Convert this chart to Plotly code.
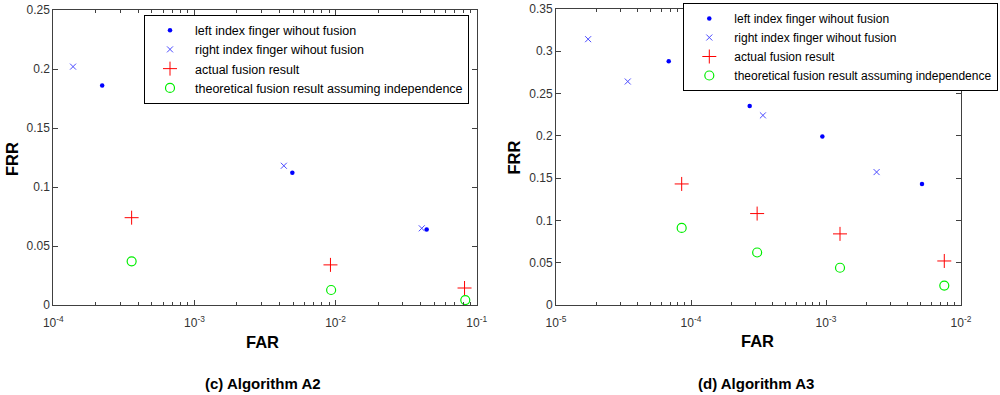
import plotly.graph_objects as go

# ---------------- data: (c) Algorithm A2 ----------------
a2_left_far = [2.22e-4, 4.94e-3, 4.42e-2]
a2_left_frr = [0.186, 0.112, 0.064]
a2_right_far = [1.38e-4, 4.30e-3, 4.08e-2]
a2_right_frr = [0.202, 0.118, 0.065]
a2_actual_far = [3.59e-4, 9.2e-3, 8.2e-2]
a2_actual_frr = [0.074, 0.034, 0.0144]
a2_theo_far = [3.59e-4, 9.3e-3, 8.3e-2]
a2_theo_frr = [0.037, 0.0127, 0.0042]

# ---------------- data: (d) Algorithm A3 ----------------
a3_left_far = [6.84e-5, 2.72e-4, 9.4e-4, 5.14e-3]
a3_left_frr = [0.288, 0.235, 0.199, 0.143]
a3_right_far = [1.73e-5, 3.4e-5, 3.41e-4, 2.37e-3]
a3_right_frr = [0.314, 0.264, 0.224, 0.157]
a3_actual_far = [8.53e-5, 3.09e-4, 1.27e-3, 7.52e-3]
a3_actual_frr = [0.143, 0.108, 0.084, 0.052]
a3_theo_far = [8.53e-5, 3.09e-4, 1.27e-3, 7.52e-3]
a3_theo_frr = [0.091, 0.062, 0.044, 0.023]

series_names = [
    "left index finger wihout fusion",
    "right index finger wihout fusion",
    "actual fusion result",
    "theoretical fusion result assuming independence",
]

a2_ticks = [1e-4, 1e-3, 1e-2, 1e-1]
a2_ticktext = ["10<sup>-4</sup>", "10<sup>-3</sup>", "10<sup>-2</sup>", "10<sup>-1</sup>"]
a3_ticks = [1e-5, 1e-4, 1e-3, 1e-2]
a3_ticktext = ["10<sup>-5</sup>", "10<sup>-4</sup>", "10<sup>-3</sup>", "10<sup>-2</sup>"]

axis_titles = ["FAR", "FRR"]
captions = ["(c) Algorithm A2", "(d) Algorithm A3"]

FONT = "Liberation Sans"

styles = [
    dict(symbol="circle", size=4.5, color="#0000ff", line=dict(width=0)),
    dict(symbol="x-thin", size=6, color="#4a4aff", line=dict(width=1, color="#4a4aff")),
    dict(symbol="cross-thin", size=10, color="#ff0000", line=dict(width=1, color="#ff0000")),
    dict(symbol="circle-open", size=9, color="#00ee00", line=dict(width=1.2, color="#00ee00")),
]

fig = go.Figure()

a2_sets = [(a2_left_far, a2_left_frr), (a2_right_far, a2_right_frr),
           (a2_actual_far, a2_actual_frr), (a2_theo_far, a2_theo_frr)]
a3_sets = [(a3_left_far, a3_left_frr), (a3_right_far, a3_right_frr),
           (a3_actual_far, a3_actual_frr), (a3_theo_far, a3_theo_frr)]

for (xs, ys), name, st in zip(a2_sets, series_names, styles):
    fig.add_trace(go.Scatter(x=xs, y=ys, mode="markers", name=name, marker=st,
                             xaxis="x", yaxis="y", legend="legend"))
for (xs, ys), name, st in zip(a3_sets, series_names, styles):
    fig.add_trace(go.Scatter(x=xs, y=ys, mode="markers", name=name, marker=st,
                             xaxis="x2", yaxis="y2", legend="legend2"))


def minor_vals(lo, hi):
    out = []
    for e in range(lo, hi):
        for m in range(2, 10):
            out.append(m * 10.0 ** e)
    return out


axis_common = dict(
    showline=True, linecolor="#404040", linewidth=1, mirror="ticks",
    ticks="inside", ticklen=5, tickcolor="#404040", showgrid=False, zeroline=False,
    tickfont=dict(family=FONT, size=12, color="#333333"),
)

W, H = 1000.0, 395.0


def px(x):
    return x / W


def py(y):
    return (H - y) / H


title_font = dict(family=FONT, size=16.5, color="#000000", weight="bold")
cap_font = dict(family=FONT, size=15, color="#000000", weight="bold")

annotations = [
    dict(text=axis_titles[0], x=px(262), y=py(342), xref="paper", yref="paper",
         showarrow=False, font=title_font, xanchor="center", yanchor="middle"),
    dict(text=axis_titles[0], x=px(757), y=py(341), xref="paper", yref="paper",
         showarrow=False, font=title_font, xanchor="center", yanchor="middle"),
    dict(text=axis_titles[1], x=px(12), y=py(159), xref="paper", yref="paper",
         showarrow=False, font=title_font, textangle=-90, xanchor="center", yanchor="middle"),
    dict(text=axis_titles[1], x=px(513), y=py(157.5), xref="paper", yref="paper",
         showarrow=False, font=title_font, textangle=-90, xanchor="center", yanchor="middle"),
    dict(text=captions[0], x=px(263), y=py(383), xref="paper", yref="paper",
         showarrow=False, font=cap_font, xanchor="center", yanchor="middle"),
    dict(text=captions[1], x=px(756), y=py(383), xref="paper", yref="paper",
         showarrow=False, font=cap_font, xanchor="center", yanchor="middle"),
]

fig.update_layout(
    width=1000, height=395,
    margin=dict(l=0, r=0, t=0, b=0, autoexpand=False),
    paper_bgcolor="white", plot_bgcolor="white",
    font=dict(family=FONT, color="#000000"),
    xaxis=dict(axis_common, type="log", range=[-4, -1], domain=[px(53.3), px(476.7)],
               tickmode="array", tickvals=a2_ticks, ticktext=a2_ticktext,
               ticklabelstandoff=7,
               minor=dict(ticks="inside", ticklen=3, tickcolor="#404040",
                          tickvals=minor_vals(-4, -1)),
               anchor="y"),
    yaxis=dict(axis_common, range=[0, 0.25], dtick=0.05, tick0=0,
               domain=[py(305), py(10)], anchor="x"),
    xaxis2=dict(axis_common, type="log", range=[-5, -2], domain=[px(556), px(961)],
                tickmode="array", tickvals=a3_ticks, ticktext=a3_ticktext,
                ticklabelstandoff=7,
                minor=dict(ticks="inside", ticklen=3, tickcolor="#404040",
                           tickvals=minor_vals(-5, -2)),
                anchor="y2"),
    yaxis2=dict(axis_common, range=[0, 0.35], dtick=0.05, tick0=0,
                domain=[py(305), py(8.7)], anchor="x2"),
    legend=dict(x=px(144), y=py(14.5), xanchor="left", yanchor="top",
                bgcolor="white", bordercolor="#000000", borderwidth=1,
                font=dict(family=FONT, size=12.5), itemwidth=40, tracegroupgap=0),
    legend2=dict(x=px(683.3), y=py(3), xanchor="left", yanchor="top",
                 bgcolor="white", bordercolor="#000000", borderwidth=1,
                 font=dict(family=FONT, size=12), itemwidth=40, tracegroupgap=0),
    showlegend=True,
    annotations=annotations,
)

fig.write_html(
    "out.html",
    config={"displayModeBar": False},
    post_script="document.body.style.margin='0';document.body.style.overflow='hidden';",
)
